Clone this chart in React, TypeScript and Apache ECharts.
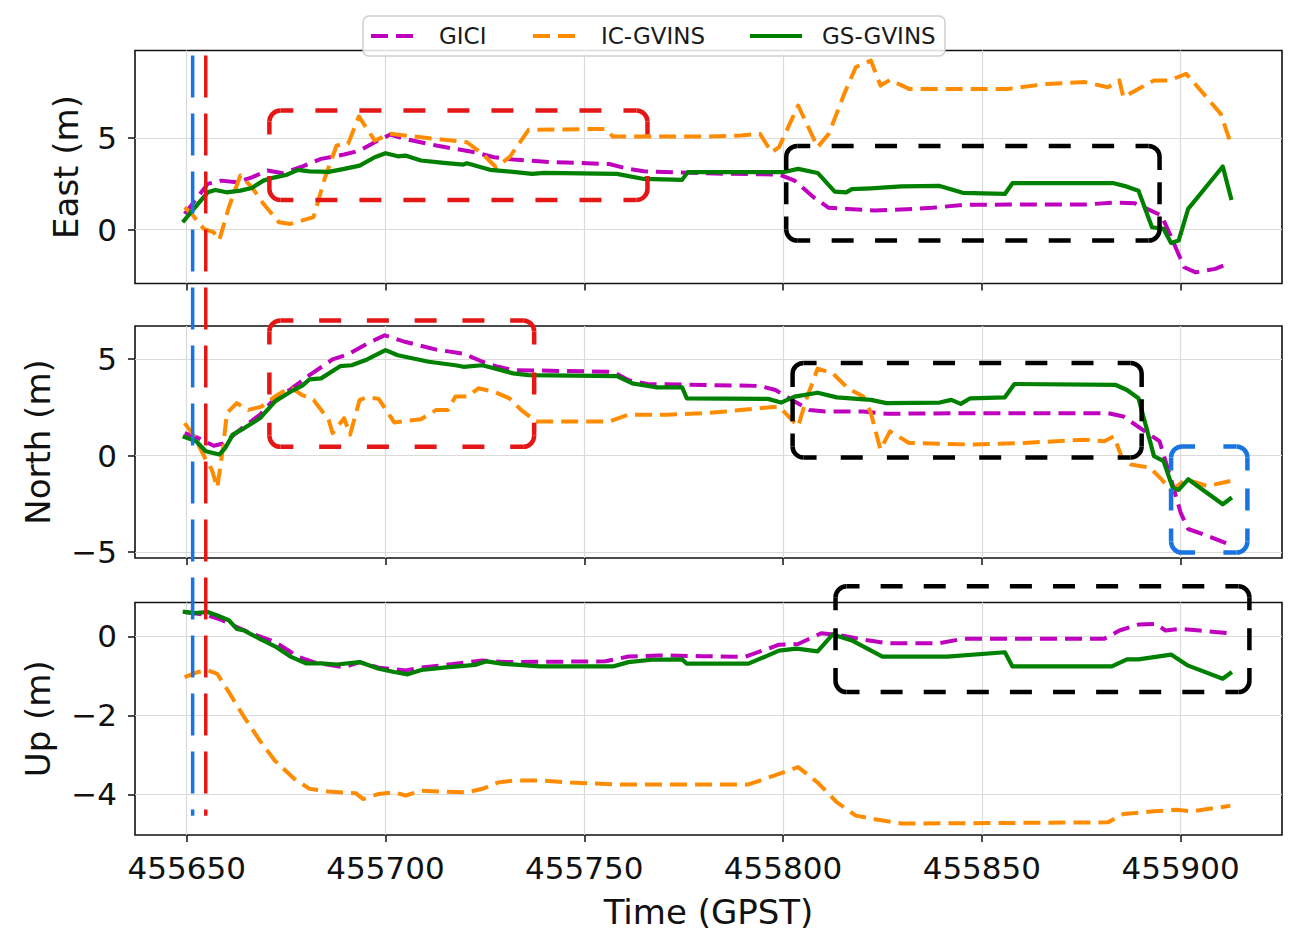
import React, { useEffect, useRef } from "react";
import * as echarts from "echarts";

// ---------- data ----------
const SERIES_NAMES = ["GICI", "IC-GVINS", "GS-GVINS"];
const PANEL_NAMES = ["East (m)", "North (m)", "Up (m)"];
const X_TICKS = [455650, 455700, 455750, 455800, 455850, 455900];
const EAST_TICKS = [0, 5];
const NORTH_TICKS = [-5, 0, 5];
const UP_TICKS = [-4, -2, 0];
const X_RANGE = [455637, 455925.5];
const EAST_RANGE = [-2.95, 9.8];
const NORTH_RANGE = [-5.3, 6.7];
const UP_RANGE = [-5.03, 0.86];

const eastGICI = [
  [455649.5, 0.86], [455655.3, 2.5], [455658.7, 2.68], [455662.6, 2.59], [455666.4, 2.86], [455670.3, 3.23],
  [455674.2, 3.08], [455679.0, 3.45], [455683.8, 3.87], [455689.6, 4.11], [455693.5, 4.32], [455697.3, 4.78],
  [455701.2, 5.2], [455705.0, 4.96], [455712.8, 4.6], [455722.5, 4.23], [455727.3, 3.96], [455732.1, 3.83],
  [455741.8, 3.69], [455756.3, 3.59], [455761.1, 3.32], [455765.0, 3.19], [455780.0, 3.08], [455799.0, 3.01],
  [455802.9, 2.68], [455807.7, 1.77], [455811.5, 1.19], [455816.3, 1.13], [455823.1, 1.04], [455827.9, 1.08],
  [455837.5, 1.19], [455845.2, 1.35], [455856.7, 1.37], [455876.0, 1.37], [455883.2, 1.48], [455888.5, 1.44],
  [455895.2, 0.77], [455898.0, -0.6], [455900.9, -2.06], [455903.8, -2.34], [455908.7, -2.15], [455912.5, -1.82],
];
const eastIC = [
  [455649.5, 1.22], [455651.4, 0.82], [455654.3, 0.04], [455656.8, -0.15], [455658.2, -0.57], [455660.6, 1.22],
  [455663.5, 2.96], [455666.4, 2.32], [455669.3, 1.41], [455673.2, 0.4], [455676.1, 0.31], [455681.9, 0.68],
  [455684.8, 2.86], [455687.7, 4.6], [455690.6, 4.69], [455693.3, 6.19], [455697.3, 4.87], [455701.2, 5.24],
  [455708.9, 5.05], [455720.5, 4.78], [455724.4, 4.14], [455727.8, 3.41], [455731.2, 3.96], [455736.0, 5.46],
  [455755.3, 5.51], [455757.2, 5.09], [455774.6, 5.09], [455780.0, 5.09], [455789.4, 5.15], [455794.2, 5.24],
  [455797.1, 4.23], [455799.0, 4.51], [455803.8, 6.79], [455808.7, 4.51], [455811.5, 5.24], [455815.4, 7.43],
  [455818.3, 8.89], [455822.1, 9.25], [455824.5, 7.88], [455826.9, 8.19], [455831.7, 7.7], [455856.7, 7.7],
  [455866.3, 7.97], [455875.9, 8.07], [455881.7, 7.79], [455884.6, 8.16], [455885.6, 7.24], [455893.3, 8.16],
  [455897.1, 8.16], [455901.4, 8.52], [455905.8, 7.43], [455910.1, 6.33], [455912.5, 4.78],
];
const eastGS = [
  [455649.0, 0.4], [455651.4, 1.04], [455655.3, 2.04], [455657.2, 2.17], [455660.0, 2.04], [455663.5, 2.13],
  [455666.4, 2.28], [455669.3, 2.68], [455672.2, 2.86], [455675.0, 2.99], [455678.0, 3.27], [455680.9, 3.19],
  [455685.7, 3.16], [455689.6, 3.32], [455693.5, 3.5], [455697.3, 3.96], [455700.0, 4.18], [455703.1, 4.01],
  [455705.0, 4.05], [455708.9, 3.78], [455714.7, 3.65], [455719.6, 3.56], [455720.5, 3.63], [455726.3, 3.27],
  [455732.1, 3.16], [455736.9, 3.05], [455739.9, 3.1], [455758.2, 3.05], [455765.0, 2.77], [455774.6, 2.72],
  [455776.0, 3.14], [455800.0, 3.14], [455803.8, 3.32], [455808.7, 3.1], [455813.0, 2.08], [455815.9, 2.04],
  [455817.3, 2.21], [455822.1, 2.26], [455829.8, 2.37], [455839.4, 2.39], [455845.2, 2.01], [455855.8, 1.95],
  [455857.7, 2.54], [455883.2, 2.54], [455886.5, 2.35], [455889.4, 2.13], [455892.8, 0.13], [455895.7, 0.04],
  [455897.6, -0.73], [455899.5, -0.6], [455901.9, 1.13], [455910.6, 3.45], [455912.8, 1.62],
];

const northGICI = [
  [455649.5, 1.16], [455652.9, 0.91], [455656.8, 0.51], [455659.2, 0.62], [455661.6, 1.03], [455664.5, 1.51],
  [455668.4, 2.11], [455672.2, 2.96], [455676.1, 3.42], [455680.9, 4.16], [455686.7, 4.97], [455690.6, 5.24],
  [455695.4, 5.79], [455699.8, 6.22], [455705.1, 5.87], [455712.8, 5.48], [455719.6, 5.27], [455724.4, 4.85],
  [455728.3, 4.59], [455732.1, 4.42], [455757.2, 4.33], [455761.1, 3.9], [455765.9, 3.7], [455780.0, 3.65],
  [455794.2, 3.6], [455798.1, 3.39], [455802.9, 2.79], [455806.7, 2.36], [455810.6, 2.28], [455820.2, 2.28],
  [455826.0, 2.16], [455847.1, 2.19], [455881.7, 2.19], [455885.6, 2.02], [455890.4, 1.34], [455894.7, 0.74],
  [455897.6, -1.23], [455900.0, -2.95], [455901.9, -3.8], [455907.7, -4.23], [455912.5, -4.62],
];
const northIC = [
  [455649.5, 1.68], [455651.9, 0.99], [455654.8, -0.21], [455656.3, -0.72], [455657.7, -1.66], [455659.2, 0.48],
  [455660.1, 2.19], [455662.6, 2.71], [455665.5, 2.36], [455668.8, 2.53], [455672.2, 3.05], [455676.1, 3.53],
  [455679.0, 3.13], [455681.9, 2.88], [455685.7, 1.85], [455686.7, 1.16], [455689.6, 1.93], [455691.1, 1.08],
  [455693.5, 2.88], [455695.4, 3.01], [455698.3, 2.93], [455702.2, 1.71], [455708.9, 1.88], [455712.8, 2.36],
  [455715.7, 2.36], [455717.6, 3.05], [455720.5, 3.05], [455723.4, 3.48], [455727.3, 3.3], [455731.2, 2.96],
  [455734.1, 2.36], [455737.9, 1.76], [455756.3, 1.76], [455761.1, 2.11], [455770.8, 2.11], [455780.0, 2.19],
  [455785.6, 2.28], [455794.2, 2.45], [455799.0, 2.53], [455803.8, 1.51], [455805.8, 2.88], [455808.7, 4.5],
  [455812.5, 4.25], [455816.3, 3.48], [455820.2, 3.05], [455822.1, 2.19], [455824.5, 0.31], [455826.9, 1.25],
  [455831.7, 0.65], [455847.1, 0.57], [455860.6, 0.65], [455876.0, 0.82], [455880.8, 0.74], [455883.2, 0.99],
  [455885.1, -0.03], [455887.5, -0.46], [455892.3, -0.63], [455895.2, -1.23], [455897.6, -1.83], [455901.4, -1.23],
  [455906.7, -1.58], [455912.5, -1.32],
];
const northGS = [
  [455649.0, 0.99], [455652.4, 0.74], [455654.8, 0.22], [455658.2, 0.05], [455659.7, 0.39], [455661.6, 1.08],
  [455664.5, 1.42], [455668.4, 1.93], [455672.2, 2.79], [455676.1, 3.3], [455679.0, 3.6], [455680.9, 3.94],
  [455683.8, 3.99], [455688.6, 4.62], [455691.5, 4.67], [455695.4, 4.97], [455700.0, 5.45], [455703.1, 5.19],
  [455710.9, 4.85], [455717.6, 4.67], [455719.6, 4.59], [455724.4, 4.67], [455732.1, 4.25], [455736.0, 4.16],
  [455758.2, 4.11], [455762.1, 3.73], [455767.9, 3.53], [455774.6, 3.53], [455775.8, 2.96], [455796.2, 2.93],
  [455799.5, 2.74], [455802.9, 3.05], [455808.7, 3.25], [455813.5, 3.01], [455822.1, 2.88], [455826.0, 2.71],
  [455839.4, 2.74], [455842.3, 2.88], [455844.7, 2.67], [455847.1, 2.96], [455855.8, 3.01], [455858.2, 3.7],
  [455883.7, 3.65], [455886.5, 3.39], [455889.4, 2.96], [455891.3, 1.51], [455893.3, -0.03], [455895.7, -0.29],
  [455898.0, -1.66], [455899.5, -1.78], [455901.9, -1.23], [455910.6, -2.52], [455912.9, -2.17],
];

const upGICI = [
  [455649.5, 0.62], [455654.8, 0.55], [455658.7, 0.42], [455662.6, 0.24], [455666.4, 0.07], [455672.2, -0.14],
  [455678.0, -0.51], [455681.9, -0.65], [455685.7, -0.72], [455689.6, -0.78], [455693.5, -0.65], [455698.3, -0.79],
  [455705.1, -0.86], [455709.0, -0.79], [455717.6, -0.69], [455724.4, -0.61], [455730.2, -0.65], [455755.3, -0.63],
  [455761.1, -0.51], [455768.8, -0.48], [455780.0, -0.5], [455790.4, -0.52], [455799.0, -0.21], [455803.8, -0.19],
  [455809.6, 0.08], [455814.4, 0.03], [455820.2, -0.08], [455826.0, -0.17], [455839.4, -0.17], [455845.2, -0.06],
  [455880.8, -0.06], [455884.6, 0.15], [455889.4, 0.3], [455893.8, 0.32], [455896.2, 0.15], [455900.0, 0.19],
  [455904.8, 0.15], [455912.5, 0.08],
];
const upIC = [
  [455649.5, -1.03], [455652.9, -0.9], [455655.3, -0.86], [455657.7, -0.95], [455660.6, -1.41], [455664.5, -2.05],
  [455668.4, -2.64], [455672.2, -3.15], [455677.1, -3.61], [455680.9, -3.86], [455685.7, -3.93], [455692.5, -3.97],
  [455694.4, -4.12], [455698.3, -3.99], [455702.2, -3.95], [455705.1, -4.03], [455709.0, -3.91], [455720.5, -3.95],
  [455724.4, -3.86], [455728.3, -3.7], [455732.1, -3.65], [455738.9, -3.65], [455746.6, -3.7], [455759.2, -3.75],
  [455791.3, -3.75], [455794.2, -3.65], [455799.0, -3.48], [455803.8, -3.31], [455808.7, -3.7], [455813.5, -4.2],
  [455818.3, -4.54], [455823.1, -4.63], [455829.8, -4.74], [455847.1, -4.73], [455881.7, -4.71], [455885.6, -4.5],
  [455893.3, -4.43], [455899.0, -4.39], [455902.9, -4.43], [455912.5, -4.29],
];
const upGS = [
  [455649.0, 0.63], [455651.9, 0.59], [455655.3, 0.62], [455657.7, 0.53], [455660.6, 0.41], [455662.6, 0.19],
  [455664.5, 0.15], [455668.4, -0.06], [455672.2, -0.25], [455676.1, -0.51], [455680.0, -0.68], [455683.8, -0.68],
  [455687.7, -0.71], [455693.5, -0.65], [455698.3, -0.82], [455702.2, -0.9], [455705.6, -0.96], [455709.0, -0.85],
  [455714.7, -0.79], [455722.5, -0.72], [455725.4, -0.63], [455729.2, -0.69], [455738.9, -0.76], [455757.2, -0.76],
  [455761.1, -0.65], [455766.9, -0.59], [455774.6, -0.58], [455775.8, -0.69], [455791.3, -0.69], [455799.0, -0.36],
  [455803.4, -0.31], [455808.7, -0.38], [455812.5, 0.05], [455817.3, -0.1], [455825.0, -0.51], [455841.3, -0.51],
  [455855.8, -0.4], [455857.7, -0.76], [455882.7, -0.76], [455886.5, -0.58], [455889.4, -0.58], [455897.6, -0.46],
  [455901.9, -0.74], [455910.6, -1.07], [455912.9, -0.9],
];

// annotation positions in data units
const EVENT_TIMES = [455651.5, 455654.8];
const EVENT_SPAN = [9.52, -4.54]; // top value in East panel, bottom value in Up panel
const BOX_PANELS = [0, 0, 1, 1, 1, 2];
const BOX_X = [
  [455670.8, 455765.9], [455800.8, 455894.7], [455670.8, 455737.4],
  [455802.4, 455890.2], [455897.6, 455916.8], [455813.2, 455917.3],
];
const BOX_Y = [
  [1.62, 6.51], [-0.6, 4.58], [0.45, 6.99],
  [-0.1, 4.79], [-5.02, 0.47], [-1.41, 1.27],
];

// ---------- styles ----------
const FONT = "DejaVu Sans";
const COLORS = ["#bf00bf", "#ff8c00", "#008000"];
const DASHES: any[] = [[17, 8], [17, 8], null];
const BOX_COLORS = ["#e51616", "#000000", "#e51616", "#000000", "#1874e0", "#000000"];
const EVENT_COLORS = ["#1874e0", "#e51616"];
const BOX_R = 11;
const BOX_DASH = 22;
const BOX_GAP = 22;
const BOX_CORNER_STRAIGHT = 13;
const BOX_LW = 4.5;

const PANEL_DATA = [
  [eastGICI, eastIC, eastGS],
  [northGICI, northIC, northGS],
  [upGICI, upIC, upGS],
];
const PANEL_TICKS = [EAST_TICKS, NORTH_TICKS, UP_TICKS];
const PANEL_RANGES = [EAST_RANGE, NORTH_RANGE, UP_RANGE];
const PANEL_STEP = [5, 5, 2];
const GRIDS = [
  { top: 50.5, height: 233 },
  { top: 326, height: 232 },
  { top: 602.5, height: 232.5 },
];
const NAME_GAPS = [52, 80, 80];
// legend layout (pixels)
const LEG_BOX = { x: 363, y: 16, w: 582, h: 40 };
const LEG_ITEM_X = [8, 170, 387];
const LEG_LINE_W = [48, 48, 52];
const LEG_TEXT_GAP = 20;

const fmt = (v: number) => (v < 0 ? "\u2212" + Math.abs(v) : String(v));

// dashed edge whose ends are solid pieces joining the rounded corners
function edgeDash(L: number): number[] {
  const s = BOX_CORNER_STRAIGHT;
  const m = Math.max(1, Math.round((L - 2 * s + BOX_DASH) / (BOX_DASH + BOX_GAP)));
  const g = (L - 2 * s - (m - 1) * BOX_DASH) / m;
  const arr: number[] = [s];
  for (let i = 0; i < m - 1; i++) arr.push(g, BOX_DASH);
  arr.push(g, s, 2000);
  return arr;
}

function boxElements(x: number, y: number, w: number, h: number, color: string): any[] {
  const r = BOX_R;
  const els: any[] = [];
  const style = { stroke: color, lineWidth: BOX_LW, fill: "none", lineCap: "butt" };
  const edges = [
    [x + r, y, x + w - r, y],
    [x + w, y + r, x + w, y + h - r],
    [x + w - r, y + h, x + r, y + h],
    [x, y + h - r, x, y + r],
  ];
  edges.forEach((e) => {
    const L = Math.hypot(e[2] - e[0], e[3] - e[1]);
    els.push({
      type: "line",
      z: 60,
      silent: true,
      shape: { x1: e[0], y1: e[1], x2: e[2], y2: e[3] },
      style: { ...style, lineDash: edgeDash(L) },
    });
  });
  const corners = [
    [x + r, y + r, Math.PI, Math.PI * 1.5],
    [x + w - r, y + r, Math.PI * 1.5, Math.PI * 2],
    [x + w - r, y + h - r, 0, Math.PI * 0.5],
    [x + r, y + h - r, Math.PI * 0.5, Math.PI],
  ];
  corners.forEach((c) => {
    els.push({
      type: "arc",
      z: 60,
      silent: true,
      shape: { cx: c[0], cy: c[1], r, startAngle: c[2], endAngle: c[3], clockwise: true },
      style: { ...style },
    });
  });
  return els;
}

export default function App() {
  const ref = useRef<HTMLDivElement>(null);

  useEffect(() => {
    if (!ref.current) return;
    const chart = echarts.init(ref.current, undefined, { renderer: "svg" });

    const grid = GRIDS.map((g) => ({
      left: 135,
      width: 1147,
      top: g.top,
      height: g.height,
      show: true,
      borderColor: "#111",
      borderWidth: 1.6,
      backgroundColor: "transparent",
      containLabel: false,
      outerBoundsMode: "none",
    }));

    const xAxis = [0, 1, 2].map((i) => ({
      type: "value",
      gridIndex: i,
      position: "bottom",
      min: X_RANGE[0],
      max: X_RANGE[1],
      minInterval: 50,
      maxInterval: 50,
      axisLine: { show: false, onZero: false },
      axisTick: {
        show: true,
        inside: false,
        length: 7,
        customValues: X_TICKS,
        lineStyle: { color: "#111", width: 1.5 },
      },
      axisLabel: {
        show: i === 2,
        customValues: X_TICKS,
        fontFamily: FONT,
        fontSize: 31,
        color: "#111",
        margin: 17,
        formatter: (v: number) => String(v),
      },
      splitLine: { show: true, lineStyle: { color: "#dadada", width: 1.2 } },
      name: i === 2 ? "Time (GPST)" : "",
      nameLocation: "middle",
      nameGap: 60,
      nameTextStyle: { fontFamily: FONT, fontSize: 34, color: "#111" },
    }));

    const yAxis = [0, 1, 2].map((i) => ({
      type: "value",
      gridIndex: i,
      position: "left",
      min: PANEL_RANGES[i][0],
      max: PANEL_RANGES[i][1],
      minInterval: PANEL_STEP[i],
      maxInterval: PANEL_STEP[i],
      axisLine: { show: false, onZero: false },
      axisTick: {
        show: true,
        inside: false,
        length: 7,
        customValues: PANEL_TICKS[i],
        lineStyle: { color: "#111", width: 1.5 },
      },
      axisLabel: {
        show: true,
        customValues: PANEL_TICKS[i],
        fontFamily: FONT,
        fontSize: 31,
        color: "#111",
        margin: 18,
        formatter: fmt,
      },
      splitLine: { show: true, lineStyle: { color: "#dadada", width: 1.2 } },
      name: PANEL_NAMES[i],
      nameLocation: "middle",
      nameRotate: 90,
      nameGap: NAME_GAPS[i],
      nameTextStyle: { fontFamily: FONT, fontSize: 34, color: "#111" },
    }));

    const series: any[] = [];
    for (let p = 0; p < 3; p++) {
      for (let s = 0; s < 3; s++) {
        series.push({
          name: SERIES_NAMES[s],
          type: "line",
          xAxisIndex: p,
          yAxisIndex: p,
          data: PANEL_DATA[p][s],
          symbol: "none",
          showSymbol: false,
          smooth: false,
          clip: true,
          z: 2 + s,
          itemStyle: { color: COLORS[s] },
          lineStyle: {
            color: COLORS[s],
            width: s === 2 ? 4.2 : 4,
            type: DASHES[s] || "solid",
            cap: "butt",
            join: "round",
          },
          emphasis: { disabled: true },
        });
      }
    }

    chart.setOption({
      animation: false,
      backgroundColor: "#ffffff",
      textStyle: { fontFamily: FONT },
      grid,
      xAxis,
      yAxis,
      series,
    });

    const toPx = (g: number, x: number, y: number) =>
      chart.convertToPixel({ gridIndex: g } as any, [x, y]) as number[];

    const elements: any[] = [];
    EVENT_TIMES.forEach((t, k) => {
      const a = toPx(0, t, EVENT_SPAN[0]);
      const b = toPx(2, t, EVENT_SPAN[1]);
      elements.push({
        type: "line",
        z: 50,
        shape: { x1: a[0], y1: a[1], x2: b[0], y2: b[1] },
        style: { stroke: EVENT_COLORS[k], lineWidth: 3.5, lineDash: [42, 16] },
        silent: true,
      });
    });
    BOX_PANELS.forEach((g, k) => {
      const a = toPx(g, BOX_X[k][0], BOX_Y[k][1]);
      const b = toPx(g, BOX_X[k][1], BOX_Y[k][0]);
      elements.push(...boxElements(a[0], a[1], b[0] - a[0], b[1] - a[1], BOX_COLORS[k]));
    });

    // legend (drawn manually so the dashed keys match the series)
    elements.push({
      type: "rect",
      z: 80,
      shape: { x: LEG_BOX.x, y: LEG_BOX.y, width: LEG_BOX.w, height: LEG_BOX.h, r: 6 },
      style: { fill: "rgba(255,255,255,0.85)", stroke: "#cfcfcf", lineWidth: 1.5 },
      silent: true,
    });
    const cy = LEG_BOX.y + LEG_BOX.h / 2;
    SERIES_NAMES.forEach((name, s) => {
      const x0 = LEG_BOX.x + LEG_ITEM_X[s];
      elements.push({
        type: "line",
        z: 81,
        shape: { x1: x0, y1: cy, x2: x0 + LEG_LINE_W[s], y2: cy },
        style: { stroke: COLORS[s], lineWidth: 4, lineDash: DASHES[s] || undefined },
        silent: true,
      });
      elements.push({
        type: "text",
        z: 82,
        x: x0 + LEG_LINE_W[s] + LEG_TEXT_GAP,
        y: cy,
        style: {
          text: name,
          fill: "#1a1a1a",
          fontFamily: FONT,
          fontSize: 23,
          verticalAlign: "middle",
          align: "left",
        },
        silent: true,
      });
    });

    chart.setOption({ graphic: { elements } });

    return () => chart.dispose();
  }, []);

  return (
    <div
      ref={ref}
      style={{ position: "fixed", left: 0, top: 0, width: 1316, height: 947, background: "#fff" }}
    />
  );
}
